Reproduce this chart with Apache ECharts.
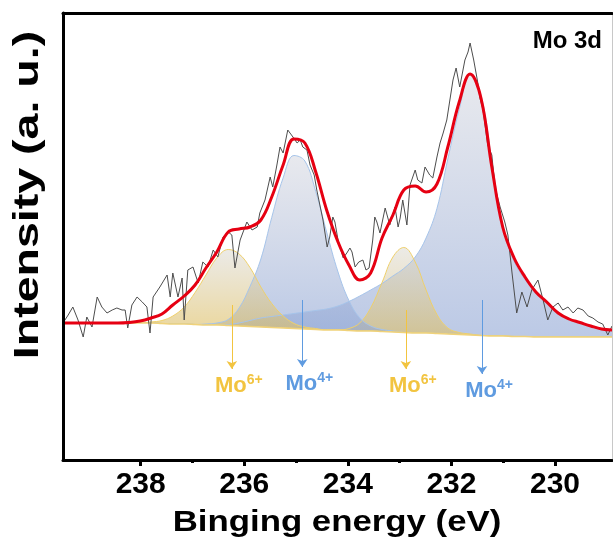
<!DOCTYPE html>
<html>
<head>
<meta charset="utf-8">
<script src="https://cdn.jsdelivr.net/npm/echarts@6/dist/echarts.min.js"></script>
<style>
html, body { margin: 0; padding: 0; background: #fff; }
#chart { width: 613px; height: 539px; }
</style>
</head>
<body>
<div id="chart"></div>
<script>
// energy grid of the fitted curves (eV)
const energyGrid = [239.50, 239.29, 239.08, 238.86, 238.65, 238.44, 238.23, 238.01, 237.80, 237.59, 237.38, 237.16, 236.95, 236.74, 236.53, 236.31, 236.10, 235.89, 235.68, 235.47, 235.25, 235.04, 234.83, 234.62, 234.41, 234.19, 233.98, 233.77, 233.56, 233.34, 233.13, 232.92, 232.70, 232.49, 232.28, 232.07, 231.85, 231.64, 231.43, 231.22, 231.01, 230.79, 230.58, 230.37, 230.16, 229.94, 229.73, 229.52, 229.31, 229.10, 228.90]
// shirley background
const background = [137, 137, 137, 137, 137, 137, 137, 137, 137, 136.5, 136, 136, 135.5, 135, 135, 134.5, 134, 133.5, 133, 132.5, 132, 131.5, 131, 130.5, 130, 130, 129.5, 129, 129, 128.5, 128, 127.5, 127, 127, 126.5, 126, 125.5, 125, 124.5, 124, 124, 123.5, 123.5, 123, 123, 123, 123, 123, 123, 123, 123]
// fitted components, height above the background
const mo6Left = [0, 0, 0, 0, 0, 0, 0, 0, 1, 3, 8, 17, 32, 50, 67, 76, 72, 59, 40, 24, 12, 5, 2, 1, 0, 0, 0, 0, 0, 0, 0, 0, 0, 0, 0, 0, 0, 0, 0, 0, 0, 0, 0, 0, 0, 0, 0, 0, 0, 0, 0]
const mo4Left = [0, 0, 0, 0, 0, 0, 0, 0, 0, 0, 0, 0, 0, 1, 2, 6, 18, 40, 68, 110, 150, 173, 168, 138, 98, 58, 30, 13, 5, 2, 1, 0, 0, 0, 0, 0, 0, 0, 0, 0, 0, 0, 0, 0, 0, 0, 0, 0, 0, 0, 0]
const mo6Right = [0, 0, 0, 0, 0, 0, 0, 0, 0, 0, 0, 0, 0, 0, 0, 0, 0, 0, 0, 0, 0, 0, 0, 0, 0, 0, 2, 8, 23, 49, 75, 85, 71, 43, 19, 6, 2, 1, 0, 0, 0, 0, 0, 0, 0, 0, 0, 0, 0, 0, 0]
const mo4Right = [0, 0, 0, 0, 0, 0, 0, 0, 0, 0, 0, 0, 0, 0, 0, 1, 3, 6, 9, 11, 13, 15, 17, 19, 21, 24, 29, 35, 41, 48, 56, 64, 76, 95, 125, 175, 225, 261, 240, 175, 110, 75, 57, 44, 34, 25, 18, 14, 11, 8, 7]
// cumulative fit (red)
const fitEnvelope = [137, 137, 137, 137, 137, 137, 137.5, 139, 142, 146, 155, 164, 175, 192, 208, 228, 231, 233, 240, 263, 295, 321, 317, 288, 250, 218, 195, 180, 187, 222, 245, 270, 274, 268, 276, 313, 358, 386, 362, 293, 233, 202, 183, 168, 158, 147, 141, 137.5, 134, 131, 130]
// measured spectrum
const rawEnergy = [239.50, 239.40, 239.31, 239.21, 239.11, 239.04, 238.94, 238.84, 238.75, 238.65,
  238.55, 238.46, 238.36, 238.30, 238.25, 238.17, 238.07, 237.97, 237.88, 237.82,
  237.76, 237.63, 237.49, 237.43, 237.38, 237.28, 237.20, 237.16, 237.09, 236.99,
  236.89, 236.80, 236.70, 236.60, 236.51, 236.41, 236.31, 236.24, 236.18, 236.08,
  235.95, 235.85, 235.75, 235.70, 235.60, 235.50, 235.45, 235.37, 235.31, 235.25,
  235.16, 235.06, 234.98, 234.92, 234.87, 234.79, 234.73, 234.65, 234.60, 234.54,
  234.48, 234.40, 234.35, 234.29, 234.25, 234.19, 234.09, 234.02, 233.96, 233.92,
  233.86, 233.79, 233.71, 233.65, 233.59, 233.52, 233.48, 233.44, 233.38, 233.28,
  233.19, 233.09, 233.03, 232.99, 232.94, 232.86, 232.80, 232.70, 232.65, 232.57,
  232.51, 232.42, 232.36, 232.28, 232.22, 232.16, 232.09, 232.03, 231.97, 231.91,
  231.84, 231.74, 231.68, 231.64, 231.57, 231.49, 231.45, 231.39, 231.30, 231.22,
  231.16, 231.06, 230.97, 230.91, 230.83, 230.74, 230.64, 230.54, 230.45, 230.33,
  230.23, 230.14, 230.04, 229.94, 229.85, 229.75, 229.65, 229.56, 229.46, 229.36,
  229.27, 229.17, 229.08, 228.98, 228.90]
const rawCounts = [137, 145, 153, 140, 123, 143, 133, 163, 153, 147,
  150, 152, 150, 150, 132, 155, 163, 158, 153, 127,
  163, 173, 185, 163, 187, 163, 182, 140, 190, 193,
  177, 198, 193, 210, 203, 223, 228, 225, 192, 220,
  238, 230, 233, 247, 260, 283, 273, 295, 313, 307,
  330, 323, 317, 320, 313, 310, 295, 285, 270, 255,
  240, 213, 223, 243, 238, 220, 202, 207, 212, 208,
  193, 198, 200, 190, 192, 220, 243, 238, 227, 252,
  235, 253, 233, 242, 260, 235, 275, 290, 280, 277,
  293, 285, 282, 303, 317, 327, 340, 360, 380, 392,
  373, 400, 408, 417, 400, 377, 362, 350, 315, 305,
  273, 253, 238, 225, 187, 147, 168, 153, 170, 180,
  160, 140, 153, 157, 150, 153, 147, 152, 150, 144,
  142, 138, 136, 125, 134]
const majorTicks = [238, 236, 234, 232, 230]
const minorTicks = [237, 235, 233, 231]

const FONT = "'Liberation Sans', Arial, sans-serif"
const YELLOW = '#f2c440'
const BLUE = '#5f9be0'

function pairs(values) {
  return energyGrid.map((e, i) => [e, values[i]])
}

// component drawn on top of the background, filled down to the axis;
// the white background area hides what lies below the baseline
function component(values, isMo6) {
  const total = values.map((v, i) => v + background[i])
  const top = Math.max(...total)
  const peakIdx = total.indexOf(top)
  const stop = (top - background[peakIdx]) / top
  const colors = isMo6
    ? ['rgba(220,218,212,0.8)', 'rgba(222,192,104,0.88)']
    : ['rgba(214,216,224,0.8)', 'rgba(146,168,214,0.88)']
  return {
    type: 'line', data: pairs(total), smooth: 0.4,
    symbol: 'none', silent: true, z: 2,
    lineStyle: { color: isMo6 ? '#efd06a' : '#a6c4ea', width: 1 },
    areaStyle: {
      origin: 'start',
      color: {
        type: 'linear', x: 0, y: 0, x2: 0, y2: 1,
        colorStops: [
          { offset: 0, color: colors[0] },
          { offset: stop, color: colors[1] },
          { offset: 1, color: colors[1] }
        ]
      }
    }
  }
}

function arrow(e, from, to, charge, color) {
  return [
    {
      coord: [e, from],
      lineStyle: { color: color, width: 1, type: 'solid' },
      itemStyle: { color: color },
      label: {
        show: true, position: 'end', distance: 4,
        formatter: '{m|Mo}{s|' + charge + '}',
        rich: {
          m: { fontSize: 22, fontWeight: 'bold', fontFamily: FONT, color: color, lineHeight: 26, padding: [0, 0, 0, 14] },
          s: { fontSize: 14, fontWeight: 'bold', fontFamily: FONT, color: color, verticalAlign: 'top', lineHeight: 26 }
        }
      }
    },
    { coord: [e, to] }
  ]
}

const chart = echarts.init(document.getElementById('chart'))
chart.setOption({
  animation: false,
  backgroundColor: '#fff',
  grid: { left: 63, right: 1, top: 13, bottom: 79 },
  xAxis: [
    {
      type: 'value', min: 228.9, max: 239.5, inverse: true, position: 'bottom', z: 10,
      axisLine: { lineStyle: { color: '#000', width: 3 } },
      axisTick: { customValues: majorTicks, length: 6, lineStyle: { color: '#000', width: 3 } },
      axisLabel: { customValues: majorTicks, margin: 10, fontSize: 30, fontWeight: 'bold', fontFamily: FONT, color: '#000' },
      splitLine: { show: false }
    },
    {
      type: 'value', min: 228.9, max: 239.5, inverse: true, position: 'bottom', z: 10,
      axisLine: { show: false },
      axisTick: { customValues: minorTicks, length: 3, lineStyle: { color: '#000', width: 3 } },
      axisLabel: { show: false },
      splitLine: { show: false }
    },
    {
      type: 'value', min: 228.9, max: 239.5, inverse: true, position: 'top', z: 10,
      axisLine: { lineStyle: { color: '#000', width: 3 } },
      axisTick: { show: false }, axisLabel: { show: false }, splitLine: { show: false }
    }
  ],
  yAxis: [
    {
      type: 'value', min: 0, max: 447, z: 10,
      axisLine: { show: true, lineStyle: { color: '#000', width: 3 } },
      axisTick: { show: false }, axisLabel: { show: false }, splitLine: { show: false }
    },
    {
      type: 'value', min: 0, max: 447, position: 'right', z: 10,
      axisLine: { show: true, lineStyle: { color: '#c8c8c8', width: 1 } },
      axisTick: { show: false }, axisLabel: { show: false }, splitLine: { show: false }
    }
  ],
  graphic: [
    {
      type: 'text', x: 337, y: 523, scaleX: 1.2, silent: true,
      style: { text: 'Binging energy (eV)', font: 'bold 29px ' + FONT, fill: '#000', align: 'center', verticalAlign: 'middle' }
    },
    {
      type: 'text', x: 28, y: 195, rotation: Math.PI / 2, scaleX: 1.33, silent: true,
      style: { text: 'Intensity (a. u.)', font: 'bold 35px ' + FONT, fill: '#000', align: 'center', verticalAlign: 'middle' }
    },
    {
      type: 'text', x: 602, y: 41, silent: true,
      style: { text: 'Mo 3d', font: 'bold 24px ' + FONT, fill: '#000', align: 'right', verticalAlign: 'middle' }
    }
  ],
  series: [
    component(mo4Right, false),
    component(mo6Right, true),
    component(mo4Left, false),
    component(mo6Left, true),
    {
      name: 'background', type: 'line', data: pairs(background), smooth: 0.4,
      symbol: 'none', silent: true, z: 3,
      lineStyle: { color: '#f0d27a', width: 1.5 },
      areaStyle: { origin: 'start', color: '#fff', opacity: 1 }
    },
    {
      name: 'raw', type: 'line', data: rawEnergy.map((e, i) => [e, rawCounts[i]]),
      symbol: 'none', silent: true, z: 4,
      lineStyle: { color: '#4d4d4d', width: 1 },
      markLine: {
        silent: true, symbol: ['none', 'arrow'], symbolSize: 8, animation: false,
        data: [
          arrow(236.24, 155, 91, '6+', YELLOW),
          arrow(234.88, 160, 93, '4+', BLUE),
          arrow(232.88, 150, 91, '6+', YELLOW),
          arrow(231.41, 160, 86, '4+', BLUE)
        ]
      }
    },
    {
      name: 'fit', type: 'line', data: pairs(fitEnvelope), smooth: 0.4,
      symbol: 'none', silent: true, z: 5,
      lineStyle: { color: '#e60012', width: 3 }
    }
  ]
})
</script>
</body>
</html>
